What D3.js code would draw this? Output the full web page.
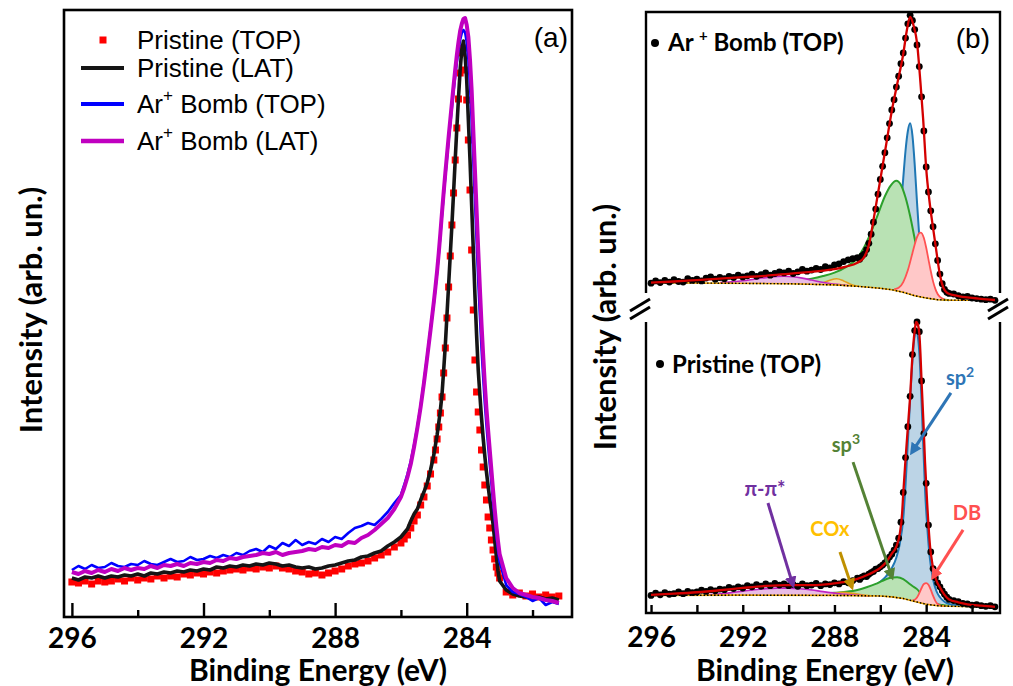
<!DOCTYPE html>
<html>
<head>
<meta charset="utf-8">
<script src="https://cdn.jsdelivr.net/npm/d3@7"></script>
<style>
  body { margin: 0; background: #fff; }
  svg { display: block; }
</style>
</head>
<body>
<svg id="chart" width="1013" height="686"></svg>
<script>
// ---------- Panel (a): C 1s spectra, four samples on one energy grid ----------
const energyA = [
  296.0,295.8,295.6,295.4,295.2,295.0,294.8,294.6,294.4,294.2,294.0,293.8,293.6,293.4,293.2,293.0,
  292.8,292.6,292.4,292.2,292.0,291.8,291.6,291.4,291.2,291.0,290.8,290.6,290.4,290.2,290.0,289.8,
  289.6,289.4,289.2,289.0,288.8,288.6,288.4,288.2,288.0,287.8,287.6,287.4,287.2,287.0,286.8,286.6,
  286.4,286.2,286.0,
  285.9,285.8,285.7,285.6,285.5,285.4,285.3,285.2,285.1,285.0,
  284.95,284.9,284.85,284.8,284.75,284.7,284.65,284.6,284.55,284.5,284.45,284.4,284.35,284.3,284.25,
  284.2,284.15,284.1,284.05,284.0,283.95,283.9,283.85,283.8,283.75,283.7,283.65,283.6,283.55,283.5,
  283.45,283.4,283.35,283.3,283.25,283.2,283.15,283.1,283.05,283.0,
  282.8,282.6,282.4,282.2,282.0,281.8,281.6,281.4,281.2
];
const pristineTop = [
  3.6,3.4,3.8,3.2,3.8,3.6,3.8,4.2,3.8,4.4,4.0,4.4,4.2,4.8,4.4,4.8,4.6,5.2,5.0,5.4,
  5.2,5.6,5.4,5.8,6.0,6.2,6.0,6.4,6.2,6.6,6.4,6.8,6.4,6.2,5.8,5.6,5.2,5.4,5.0,5.4,
  5.8,6.2,6.8,7.2,7.4,7.8,8.4,9.0,9.6,10.6,11.4,
  12.2,13.0,14.4,15.8,17.0,19.0,20.6,22.8,25.2,28.0,
  30.0,32.2,34.6,37.4,40.6,45.4,50.4,56.4,62.6,68.8,75.0,81.4,88.0,94.4,100.2,
  105.4,109.4,110.4,106.0,100.0,92.0,82.0,70.0,58.0,48.0,41.6,37.6,34.0,30.0,26.6,
  23.0,20.0,16.6,14.4,12.0,10.0,8.2,6.6,5.4,4.4,
  1.6,1.0,1.4,0.8,1.2,0.6,1.0,0.6,0.8
];
const pristineLat = [
  4.4,4.0,4.6,4.4,4.8,4.4,4.8,4.6,5.0,4.8,5.2,4.8,5.4,5.2,5.6,5.4,5.8,5.6,6.0,5.8,
  6.2,6.0,6.6,6.4,6.8,6.6,7.0,6.8,7.2,7.0,7.4,7.2,6.8,7.0,6.6,6.4,6.6,6.2,6.4,6.8,
  7.0,7.4,7.8,8.0,8.6,8.8,9.4,9.8,10.8,11.6,12.6,
  13.4,14.2,15.8,17.2,18.2,20.0,21.6,23.4,26.0,29.0,
  31.0,33.0,35.4,38.0,41.2,46.0,51.0,57.0,63.0,69.0,75.0,81.4,88.0,94.4,100.4,
  106.0,110.0,111.8,109.0,104.0,96.0,88.0,79.0,70.0,61.0,53.0,46.0,41.0,36.4,32.4,
  28.8,25.6,22.8,20.2,17.8,15.2,12.0,8.8,5.8,3.8,
  2.0,1.2,0.8,0.6,0.4,0.6,0.2,0.4,0.0
];
const arBombTop = [
  6.0,6.8,6.2,7.0,6.4,6.6,7.4,6.8,6.6,7.2,7.0,7.8,7.2,7.0,7.6,8.2,7.6,7.8,8.6,8.0,
  8.2,8.8,8.4,9.0,8.6,9.4,9.0,9.8,10.2,9.6,10.8,10.2,11.4,10.8,12.0,11.0,11.6,11.2,12.2,11.6,
  12.6,12.2,13.4,14.4,14.8,15.4,15.0,16.2,17.6,19.4,21.0,
  23.0,25.2,27.8,31.0,34.6,38.8,43.6,48.8,54.2,59.4,
  62.4,65.6,69.2,73.0,77.2,81.0,84.8,88.4,92.0,95.2,98.6,101.8,104.8,107.6,110.0,
  112.0,113.4,114.0,113.6,111.6,108.2,103.0,96.0,88.0,80.0,72.0,64.0,57.0,50.4,44.6,
  39.4,35.0,31.0,27.2,23.4,19.6,16.0,12.8,10.0,7.6,
  3.0,1.6,1.2,0.6,-0.2,0.4,-1.0,-0.4,-0.8
];
const arBombLat = [
  5.6,5.2,5.8,5.4,6.0,5.6,6.2,5.8,6.4,6.0,6.4,6.2,6.8,6.4,7.0,6.8,7.2,6.8,7.4,7.2,
  7.6,7.4,8.0,7.8,8.4,8.2,8.6,8.8,9.0,9.4,9.2,9.6,9.0,9.4,9.6,9.8,10.2,10.0,10.6,10.4,
  11.0,10.8,11.6,11.4,12.4,13.0,14.0,15.2,16.4,18.2,20.6,
  22.4,24.6,27.2,30.6,34.4,38.6,43.4,48.6,54.0,59.6,
  62.6,65.8,69.4,73.4,77.6,81.6,85.4,89.0,92.6,96.0,99.4,102.8,106.0,109.0,111.6,
  113.8,115.2,116.2,116.4,115.0,112.6,108.0,102.0,94.0,86.0,78.0,70.0,62.4,55.2,49.0,
  43.2,38.2,34.0,30.0,26.0,22.0,18.2,14.8,11.8,9.2,
  4.4,2.4,1.4,1.0,0.6,0.4,0.0,-0.2,-0.6
];
const legendLabelsA = ["Pristine (TOP)", "Pristine (LAT)", "Ar+ Bomb (TOP)", "Ar+ Bomb (LAT)"];
const majorTicks = [296, 292, 288, 284];
const minorTicksA = [294, 290, 286, 282];
const ticksB = [296, 294, 292, 290, 288, 286, 284, 282];

// ---------- Panel (b): measured points on a shared energy grid ----------
const energyB = [
  296.0,295.8,295.6,295.4,295.2,295.0,294.8,294.6,294.4,294.2,294.0,293.8,293.6,293.4,293.2,293.0,
  292.8,292.6,292.4,292.2,292.0,291.8,291.6,291.4,291.2,291.0,290.8,290.6,290.4,290.2,290.0,289.8,
  289.6,289.4,289.2,289.0,288.8,288.6,288.4,288.2,288.0,287.8,287.6,287.4,287.2,
  287.0,286.9,286.8,286.7,286.6,286.5,286.4,286.3,286.2,286.1,286.0,285.9,285.8,285.7,285.6,285.5,
  285.4,285.3,285.2,285.1,285.0,284.9,284.8,284.7,284.6,284.5,284.4,284.3,284.2,284.1,284.0,283.9,
  283.8,283.7,283.6,283.5,283.4,283.3,283.2,283.1,283.0,
  282.8,282.6,282.4,282.2,282.0,281.8,281.6,281.4,281.2,281.0
];
const bombPoints = [
  6.6,7.4,6.8,7.6,7.0,7.8,7.2,7.0,8.2,7.6,8.0,7.4,8.4,8.8,8.0,8.6,8.2,9.0,8.6,9.4,
  8.8,9.2,9.8,9.0,9.6,10.2,9.4,10.0,10.6,10.2,10.8,10.0,10.6,11.4,10.8,11.2,11.8,11.4,12.4,12.0,
  13.0,13.4,14.2,14.8,15.2,
  15.6,15.0,16.2,16.8,18.4,20.6,23.8,28.0,32.6,37.8,43.0,47.6,52.4,57.6,62.6,67.4,
  71.0,75.4,79.2,83.6,87.4,92.6,97.6,100.6,98.8,95.6,90.2,82.6,72.0,60.0,47.4,38.6,
  32.0,26.4,20.4,14.6,9.8,6.4,4.4,3.4,3.0,
  2.8,2.2,1.8,2.0,1.4,1.2,1.0,0.8,1.0,0.6
];
const pristinePoints = [
  4.4,5.2,4.6,5.4,4.8,5.0,5.6,5.0,5.8,5.4,5.6,6.2,5.8,6.4,6.0,6.6,6.4,7.2,6.8,7.4,
  7.0,7.8,7.4,8.2,7.6,8.4,7.8,8.6,8.0,8.4,7.8,8.2,7.6,8.4,7.8,8.0,8.6,7.8,8.4,8.2,
  8.8,8.4,9.2,8.8,9.6,
  10.4,10.0,10.8,11.2,11.0,11.8,12.4,12.8,13.6,13.8,14.4,15.0,15.8,16.6,17.8,18.8,
  20.2,22.0,24.4,30.0,40.4,52.6,63.4,74.0,88.6,97.0,100.0,96.6,79.4,61.0,43.6,29.0,
  19.6,13.8,10.6,8.8,7.4,6.0,4.8,3.8,3.0,
  2.6,2.2,1.6,1.4,1.0,1.2,0.8,0.6,0.8,0.4
];

// Fit envelopes
const envBombE = [296,295,294,293,292,291,290,289,288.5,288,287.5,287,286.75,286.5,286.25,286,285.75,285.5,285.25,285,
  284.85,284.7,284.55,284.4,284.25,284.13,284,283.85,283.7,283.55,283.4,283.25,283.1,282.9,282.6,282.2,281.6,281];
const envBombV = [6.8,7.2,7.7,8.2,8.7,9.2,9.9,10.6,11.0,11.5,12.4,13.8,15.2,20,31,43,55,67,77,87,
  95,100,97,91,77,64,47,35,26,17.5,9.5,5.0,3.3,2.6,2.1,1.6,1.1,0.7];
const envPrisE = [296,295,294,293,292,291,290,289,288.5,288,287.5,287,286.5,286,285.75,285.5,285.3,285.15,285.05,285.0,
  284.9,284.8,284.7,284.6,284.5,284.44,284.38,284.3,284.25,284.2,284.12,284.05,283.96,283.9,283.83,283.75,283.69,
  283.55,283.4,283.2,283.0,282.6,282.2,281.6,281.0];
const envPrisV = [4.6,5.0,5.5,6.2,7.0,7.7,8.0,8.0,8.2,8.6,9.2,10.2,11.8,14.0,16.0,19.0,21.5,26,33,40,
  52,63,74,88,97,100,99.5,96,89,79,65,51,37,29,21.5,16.5,13.5,
  9.6,7.2,4.6,3.0,2.0,1.3,0.8,0.4];

// Shirley backgrounds
const bgBombE = [296,293,290,288,287,286,285.5,285,284.5,284,283.5,283,281];
const bgBombV = [6.8,6.6,6.4,6.0,5.5,4.8,4.3,3.4,2.2,1.4,0.8,0.65,0.6];
const bgPrisE = [296,292,288,286,285.5,285,284.5,284,283.5,283,281];
const bgPrisV = [4.4,4.5,4.4,4.2,3.9,3.3,2.3,1.3,0.8,0.6,0.4];

// Fitted components (height above background)
const sp2BombE = [285.6,285.4,285.3,285.2,285.1,285.0,284.9,284.8,284.7,284.6,284.5,284.4,284.3,284.2,284.1,284.0,283.9,283.7];
const sp2BombV = [4,9,14,21,30,40,50,57,60,56,46,33,21,11.6,5.7,2.4,0.9,0.1];
const sp3BombE = [291,290,289.5,289,288.5,288,287.5,287,286.7,286.4,286.1,285.8,285.55,285.3,285.1,284.9,284.7,284.5,284.3,284.1,283.9,283.7,283.5,283.3,283.0];
const sp3BombV = [0.5,0.9,1.3,2.0,3.0,4.3,6.5,10,14,19.5,26,32.5,36.5,38.6,37.5,33.5,27.5,20,12.5,7,3.5,1.6,0.7,0.2,0];
const dbBombE = [285.4,285.2,285.0,284.8,284.6,284.5,284.4,284.3,284.23,284.1,284.0,283.9,283.8,283.7,283.6,283.5,283.4,283.2];
const dbBombV = [0.3,1.2,3.6,8.2,14.7,18.0,20.7,22.3,22.6,20.9,17.7,13.7,9.7,6.2,3.7,2.0,1.0,0.2];
const coxBombE = [288.8,288.5,288.2,287.9,287.6,287.3,287.0];
const coxBombV = [0,0.6,1.6,2.2,1.6,0.6,0];
const piBombE = [293,292.5,292,291.5,291,290.5,290.2,289.8,289.4,289,288.6,288.2,287.8,287.4];
const piBombV = [0.2,0.5,0.9,1.5,2.1,2.5,2.6,2.5,2.1,1.5,0.9,0.45,0.2,0.05];

const sp2PrisE = [288,287.5,287,286.5,286,285.75,285.5,285.3,285.15,285.0,284.9,284.8,284.7,284.6,284.5,
  284.44,284.35,284.28,284.2,284.12,284.05,283.96,283.85,283.7,283.55,283.4,283.2,283.0,282.5,282];
const sp2PrisV = [0.3,0.6,1.2,2.5,5.0,7.0,10,14,19,28,40,55,70,84,93,95,92,85,70,54,40,28,17,9,5,3,1.5,0.8,0.3,0.1];
const sp3PrisE = [291,290,289,288,287.5,287,286.6,286.2,285.9,285.6,285.27,285.0,284.8,284.6,284.4,284.2,284.0,283.8,283.6,283.3,283.0];
const sp3PrisV = [0.2,0.3,0.5,0.9,1.3,2.0,3.0,4.2,5.4,6.5,7.1,6.8,6.0,5.2,4.5,3.0,1.8,1.0,0.6,0.3,0.1];
const dbPrisE = [284.6,284.5,284.4,284.3,284.2,284.1,284.0,283.9,283.8,283.7,283.6,283.5,283.4,283.2];
const dbPrisV = [0.2,0.6,1.6,3.3,5.3,6.9,7.4,6.9,5.3,3.3,1.6,0.6,0.2,0];
const coxPrisE = [288.8,288.4,288.0,287.6,287.2,286.8,286.4];
const coxPrisV = [0,0.3,0.8,1.1,0.8,0.3,0];
const piPrisE = [293.5,293,292.5,292,291.5,291,290.5,290,289.5,289,288.5,288,287.5,287,286.5];
const piPrisV = [0.2,0.5,0.9,1.4,1.9,2.3,2.5,2.5,2.3,1.9,1.3,0.8,0.4,0.15,0];

// ---------- drawing ----------
const svg = d3.select("#chart");
const BOLD = "Lato, 'Open Sans', 'DejaVu Sans', sans-serif";
const ARIAL = "'Liberation Sans', Arial, sans-serif";
const pts = (es, vs) => es.map((e, i) => ({ e, v: vs[i] }));
const defs = svg.append("defs");

// ===== Panel (a) =====
const A = { left: 64, right: 572, top: 10, bottom: 617 };
const xA = d3.scaleLinear().domain([296.24, 280.8]).range([A.left, A.right]);
const yA = d3.scaleLinear().domain([-3.4, 118]).range([A.bottom, A.top]);
defs.append("clipPath").attr("id", "clipA").append("rect")
  .attr("x", A.left).attr("y", A.top).attr("width", A.right - A.left).attr("height", A.bottom - A.top);

const gA = svg.append("g");
const plotA = gA.append("g").attr("clip-path", "url(#clipA)");
const lineA = d3.line().x(d => xA(d.e)).y(d => yA(d.v));

plotA.append("g").selectAll("rect").data(pts(energyA, pristineTop)).join("rect")
  .attr("x", d => xA(d.e) - 3.5).attr("y", d => yA(d.v) - 3.5)
  .attr("width", 7).attr("height", 7).attr("fill", "#ff0000");
const seriesA = [
  { vals: pristineLat, color: "#151515", w: 3.6 },
  { vals: arBombTop, color: "#0000ff", w: 2.6 },
  { vals: arBombLat, color: "#c000c0", w: 4 }
];
seriesA.forEach(s => {
  plotA.append("path").datum(pts(energyA, s.vals)).attr("d", lineA)
    .attr("fill", "none").attr("stroke", s.color).attr("stroke-width", s.w)
    .attr("stroke-linejoin", "round");
});

gA.append("rect").attr("x", A.left).attr("y", A.top)
  .attr("width", A.right - A.left).attr("height", A.bottom - A.top)
  .attr("fill", "none").attr("stroke", "#000").attr("stroke-width", 2.6);

function styleAxis(g, size) {
  g.select(".domain").remove();
  g.selectAll(".tick line").attr("stroke", "#000").attr("stroke-width", 2.4);
  g.selectAll(".tick text").attr("font-family", BOLD).attr("font-weight", 700)
    .attr("font-size", size).attr("fill", "#000");
}
gA.append("g").attr("transform", `translate(0,${A.bottom})`)
  .call(d3.axisBottom(xA).tickValues(majorTicks).tickSize(-14).tickPadding(11).tickFormat(d3.format("d")))
  .call(g => styleAxis(g, 28));
gA.append("g").attr("transform", `translate(0,${A.bottom})`)
  .call(d3.axisBottom(xA).tickValues(minorTicksA).tickSize(-7).tickFormat(""))
  .call(g => styleAxis(g, 28));

// legend
const legColors = ["#ff0000", "#151515", "#0000ff", "#c000c0"];
const legY = [40, 68, 104, 141];
const leg = gA.append("g");
legendLabelsA.forEach((lab, i) => {
  if (i === 0) {
    leg.append("rect").attr("x", 99.5).attr("y", legY[i] - 3.5).attr("width", 7).attr("height", 7).attr("fill", legColors[i]);
  } else {
    leg.append("line").attr("x1", 81).attr("x2", 124).attr("y1", legY[i]).attr("y2", legY[i])
      .attr("stroke", legColors[i]).attr("stroke-width", i === 3 ? 4.5 : 4);
  }
  const t = leg.append("text").attr("x", 137).attr("y", legY[i] + 9)
    .attr("font-family", ARIAL).attr("font-size", 26).attr("fill", "#000");
  if (lab.startsWith("Ar+")) {
    t.append("tspan").text("Ar");
    t.append("tspan").attr("font-size", 17).attr("dy", -12).text("+");
    t.append("tspan").attr("dy", 12).text(lab.slice(3));
  } else {
    t.text(lab);
  }
});
gA.append("text").attr("x", 568).attr("y", 47).attr("text-anchor", "end")
  .attr("font-family", ARIAL).attr("font-size", 28).text("(a)");

// axis titles
function axisTitles(cx, yLabelX, yLabelY) {
  svg.append("text").attr("x", cx).attr("y", 681).attr("text-anchor", "middle")
    .attr("font-family", BOLD).attr("font-weight", 700).attr("font-size", 30).text("Binding Energy (eV)");
  svg.append("text").attr("transform", `translate(${yLabelX},${yLabelY}) rotate(-90)`)
    .attr("text-anchor", "middle").attr("font-family", BOLD).attr("font-weight", 700)
    .attr("font-size", 31).text("Intensity (arb. un.)");
}
axisTitles(318, 42, 310);

// ===== Panel (b) =====
const B = { left: 646, right: 1000, top: 12, topBottom: 302, lowTop: 322, bottom: 613 };
const xB = d3.scaleLinear().domain([296.22, 280.78]).range([B.left, B.right]);
const yTop = d3.scaleLinear().domain([0, 101.75]).range([B.topBottom, B.top]);
const yLow = d3.scaleLinear().domain([-1.75, 100]).range([B.bottom, B.lowTop]);
const gB = svg.append("g");

const compStyles = {
  sp2: { fill: "#bcd4e6", stroke: "#1f77b4", w: 2 },
  sp3: { fill: "#b9e2b4", stroke: "#2ca02c", w: 2 },
  db:  { fill: "#ffc8c8", stroke: "#ff5252", w: 1.8 },
  cox: { fill: "#f3ddb0", stroke: "#e0a020", w: 1.6 },
  pi:  { fill: "#e9bce6", stroke: "#c025c0", w: 1.6 }
};

function drawFit(y, bgE, bgV, comps, pE, pV, envE, envV) {
  const bgAt = d3.scaleLinear().domain(bgE).range(bgV);
  const g = gB.append("g");
  comps.forEach(c => {
    const st = compStyles[c.key];
    const data = pts(c.e, c.v);
    g.append("path").datum(data)
      .attr("d", d3.area().curve(d3.curveMonotoneX).x(d => xB(d.e))
        .y0(d => y(bgAt(d.e))).y1(d => y(bgAt(d.e) + d.v)))
      .attr("fill", st.fill).attr("stroke", "none");
    g.append("path").datum(data)
      .attr("d", d3.line().curve(d3.curveMonotoneX).x(d => xB(d.e)).y(d => y(bgAt(d.e) + d.v)))
      .attr("fill", "none").attr("stroke", st.stroke).attr("stroke-width", st.w);
  });
  const bgLine = d3.line().x(d => xB(d.e)).y(d => y(d.v));
  g.append("path").datum(pts(bgE, bgV)).attr("d", bgLine)
    .attr("fill", "none").attr("stroke", "#e8a000").attr("stroke-width", 1.6);
  g.append("path").datum(pts(bgE, bgV)).attr("d", bgLine)
    .attr("fill", "none").attr("stroke", "#000").attr("stroke-width", 1.4).attr("stroke-dasharray", "1.5,2");
  g.append("g").selectAll("circle").data(pts(pE, pV)).join("circle")
    .attr("cx", d => xB(d.e)).attr("cy", d => y(d.v)).attr("r", 3.4).attr("fill", "#000");
  g.append("path").datum(pts(envE, envV))
    .attr("d", d3.line().curve(d3.curveMonotoneX).x(d => xB(d.e)).y(d => y(d.v)))
    .attr("fill", "none").attr("stroke", "#d40000").attr("stroke-width", 2.3);
}

drawFit(yTop, bgBombE, bgBombV, [
  { key: "sp2", e: sp2BombE, v: sp2BombV },
  { key: "sp3", e: sp3BombE, v: sp3BombV },
  { key: "db",  e: dbBombE,  v: dbBombV },
  { key: "cox", e: coxBombE, v: coxBombV },
  { key: "pi",  e: piBombE,  v: piBombV }
], energyB, bombPoints, envBombE, envBombV);

drawFit(yLow, bgPrisE, bgPrisV, [
  { key: "sp2", e: sp2PrisE, v: sp2PrisV },
  { key: "sp3", e: sp3PrisE, v: sp3PrisV },
  { key: "db",  e: dbPrisE,  v: dbPrisV },
  { key: "cox", e: coxPrisE, v: coxPrisV },
  { key: "pi",  e: piPrisE,  v: piPrisV }
], energyB, pristinePoints, envPrisE, envPrisV);

// broken frame
const frame = gB.append("g").attr("fill", "none").attr("stroke", "#000").attr("stroke-width", 2.4);
frame.append("path").attr("d", `M${B.left},293 V${B.top} H${B.right} V293`);
frame.append("path").attr("d", `M${B.left},322 V${B.bottom} H${B.right} V322`);
[B.left - 6, B.right - 2].forEach(cx => {
  frame.append("line").attr("x1", cx - 10).attr("y1", 311).attr("x2", cx + 10).attr("y2", 299).attr("stroke-width", 3);
  frame.append("line").attr("x1", cx - 10).attr("y1", 319).attr("x2", cx + 10).attr("y2", 307).attr("stroke-width", 3);
});

gB.append("g").attr("transform", `translate(0,${B.bottom})`)
  .call(d3.axisBottom(xB).tickValues(ticksB).tickSize(-8).tickPadding(14)
    .tickFormat(d => d % 4 === 0 ? d : ""))
  .call(g => styleAxis(g, 28));

gB.append("text").attr("x", 990).attr("y", 48).attr("text-anchor", "end")
  .attr("font-family", ARIAL).attr("font-size", 28).text("(b)");

// sample labels
gB.append("circle").attr("cx", 655).attr("cy", 43).attr("r", 4).attr("fill", "#000");
const tb = gB.append("text").attr("x", 668).attr("y", 51)
  .attr("font-family", BOLD).attr("font-weight", 700).attr("font-size", 24);
tb.append("tspan").text("Ar ");
tb.append("tspan").attr("font-size", 15).attr("dy", -10).text("+");
tb.append("tspan").attr("dy", 10).text(" Bomb (TOP)");
gB.append("circle").attr("cx", 660).attr("cy", 364).attr("r", 4).attr("fill", "#000");
gB.append("text").attr("x", 672).attr("y", 373)
  .attr("font-family", BOLD).attr("font-weight", 700).attr("font-size", 24).text("Pristine (TOP)");

// component annotations (positions in energy / intensity units of the lower panel)
const annotations = [
  { label: "sp", sup: "2", color: "#2e75b6", arrow: "#2e75b6", text: [282.52, 80.4], from: [282.92, 75.2], to: [284.62, 54.5] },
  { label: "sp", sup: "3", color: "#548235", arrow: "#548235", text: [287.50, 57.0], from: [287.19, 51.0], to: [285.49, 10.8] },
  { label: "π-π*", color: "#7030a0", arrow: "#7030a0", text: [291.03, 41.6], from: [290.90, 36.7], to: [289.81, 8.0] },
  { label: "COx", color: "#ffc000", arrow: "#bf9000", text: [288.20, 27.6], from: [287.76, 19.6], to: [287.24, 7.3] },
  { label: "DB", color: "#ff5050", arrow: "#ff5050", text: [282.22, 33.2], from: [282.39, 27.3], to: [283.70, 10.8] }
];
annotations.forEach((a, i) => {
  defs.append("marker").attr("id", "head" + i).attr("viewBox", "0 0 10 10")
    .attr("refX", 7).attr("refY", 5).attr("markerWidth", 4).attr("markerHeight", 4)
    .attr("orient", "auto").append("path").attr("d", "M0,0 L10,5 L0,10 z").attr("fill", a.arrow);
  gB.append("line")
    .attr("x1", xB(a.from[0])).attr("y1", yLow(a.from[1]))
    .attr("x2", xB(a.to[0])).attr("y2", yLow(a.to[1]))
    .attr("stroke", a.arrow).attr("stroke-width", 3).attr("marker-end", `url(#head${i})`);
  const t = gB.append("text").attr("x", xB(a.text[0])).attr("y", yLow(a.text[1]) + 7)
    .attr("text-anchor", "middle").attr("font-family", BOLD).attr("font-weight", 700)
    .attr("font-size", 20).attr("fill", a.color);
  t.append("tspan").text(a.label);
  if (a.sup) t.append("tspan").attr("font-size", 14).attr("dy", -8).text(a.sup);
});

axisTitles(825, 616, 327);
</script>
</body>
</html>
